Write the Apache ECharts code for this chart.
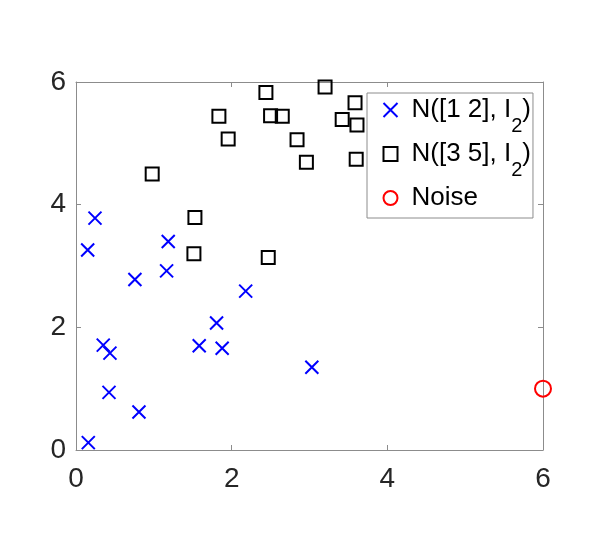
<!DOCTYPE html>
<html>
<head>
<meta charset="utf-8">
<script src="https://cdn.jsdelivr.net/npm/echarts@6/dist/echarts.min.js"></script>
<style>
	html, body { margin: 0; padding: 0; background: #fff; }
	#chart { width: 598px; height: 549px; }
</style>
</head>
<body>
<div id="chart"></div>
<script>
// 数据
var clusterA = [
	[0.244, 3.78], [0.150, 3.26], [1.185, 3.40], [0.757, 2.78], [1.164, 2.92],
	[2.18, 2.59], [1.806, 2.07], [0.350, 1.71], [0.436, 1.58], [1.583, 1.70],
	[1.878, 1.66], [3.03, 1.35], [0.424, 0.94], [0.809, 0.62], [0.158, 0.12]
]
var clusterB = [
	[0.979, 4.50], [1.528, 3.79], [1.515, 3.20], [2.47, 3.14], [2.96, 4.69],
	[1.836, 5.44], [1.955, 5.07], [2.44, 5.83], [2.50, 5.45], [2.65, 5.44],
	[2.84, 5.06], [3.20, 5.92], [3.42, 5.39], [3.585, 5.66], [3.61, 5.30],
	[3.60, 4.74]
]
var noise = [[6, 1]]
var seriesNames = ['N([1 2], I2)', 'N([3 5], I2)', 'Noise']
var ticks = [0, 2, 4, 6]

var axisGray = '#8c8c8c'
var textColor = '#262626'
var font = '"Liberation Sans", Arial, Helvetica, sans-serif'

// 坐标轴
function makeAxis(pos, showLabel) {
	return {
		type: 'value',
		position: pos,
		min: ticks[0],
		max: ticks[ticks.length - 1],
		interval: 2,
		splitLine: { show: false },
		axisLine: { show: true, onZero: false, lineStyle: { color: axisGray, width: 1 } },
		axisTick: { show: true, inside: true, length: 5, lineStyle: { color: axisGray } },
		axisLabel: {
			show: showLabel,
			color: textColor,
			fontSize: 28,
			fontFamily: font,
			margin: pos === 'left' ? 10 : 15,
			showMinLabel: true,
			showMaxLabel: true
		}
	}
}

// 图例文字 (I 下标 2)
function legendText(name) {
	var m = name.match(/^(.*I)2(\))$/)
	if (m) return '{p|' + m[1] + '}{s|2}{a|' + m[2] + '}'
	return '{q|' + name + '}'
}

var myChart = echarts.init(document.getElementById('chart'), null, { renderer: 'canvas' })
myChart.setOption({
	animation: false,
	backgroundColor: '#fff',
	grid: { left: 76, right: 55, top: 82, bottom: 99, containLabel: false },
	xAxis: [makeAxis('bottom', true), makeAxis('top', false)],
	yAxis: [makeAxis('left', true), makeAxis('right', false)],
	legend: {
		orient: 'vertical',
		left: 367,
		top: 93,
		padding: [4, 2, 7, 14],
		itemWidth: 14,
		itemHeight: 14,
		itemGap: 5,
		backgroundColor: '#fff',
		borderColor: axisGray,
		borderWidth: 1,
		borderRadius: 0,
		data: seriesNames,
		formatter: legendText,
		textStyle: {
			color: '#000',
			fontSize: 26,
			fontFamily: font,
			rich: {
				p: { fontSize: 26, lineHeight: 26, verticalAlign: 'top', padding: [0, 0, 0, 9], fontFamily: font, color: '#000' },
				a: { fontSize: 26, lineHeight: 26, verticalAlign: 'top', fontFamily: font, color: '#000' },
				s: { fontSize: 20, lineHeight: 20, verticalAlign: 'top', padding: [19, 0, 0, 0], fontFamily: font, color: '#000' },
				q: { fontSize: 26, lineHeight: 26, padding: [0, 0, 0, 9], fontFamily: font, color: '#000' }
			}
		}
	},
	series: [
		{
			name: seriesNames[0],
			type: 'scatter',
			data: clusterA,
			symbol: 'path://M0,0L10,10M10,0L0,10',
			symbolSize: 13,
			itemStyle: { color: 'none', borderColor: '#0000ff', borderWidth: 2, opacity: 1 },
			z: 3
		},
		{
			name: seriesNames[1],
			type: 'scatter',
			data: clusterB,
			symbol: 'rect',
			symbolSize: 13,
			itemStyle: { color: 'none', borderColor: '#000000', borderWidth: 2, opacity: 1 },
			z: 3
		},
		{
			name: seriesNames[2],
			type: 'scatter',
			data: noise,
			symbol: 'circle',
			symbolSize: 16,
			itemStyle: { color: 'none', borderColor: '#ff0000', borderWidth: 2, opacity: 1 },
			z: 3
		}
	]
})
</script>
</body>
</html>
